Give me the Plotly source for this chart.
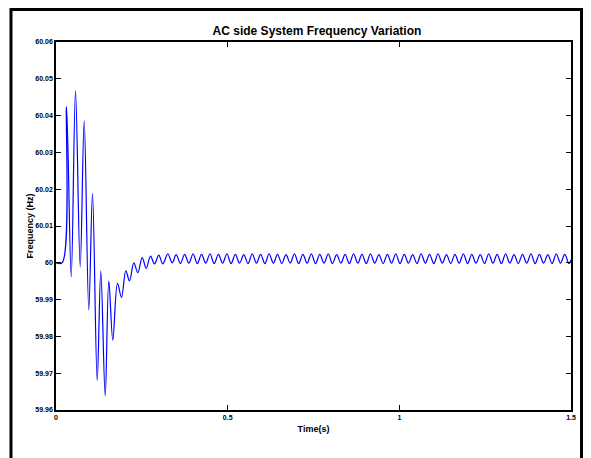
import plotly.graph_objects as go

# Extrema of the frequency trace (time in s, frequency in Hz)
transient_t = [0.000, 0.018, 0.0306, 0.0443, 0.0568, 0.0705, 0.0821, 0.0955, 0.1063, 0.1200,
               0.1305, 0.1433, 0.1538, 0.1655, 0.1791, 0.1908, 0.2033, 0.2141, 0.2266, 0.2383,
               0.2511, 0.2627, 0.2753, 0.2869, 0.2994, 0.3111, 0.3257, 0.3385]
transient_f = [60.0000, 60.0000, 60.0424, 59.9962, 60.0467, 59.9989, 60.0386, 59.9872, 60.0189, 59.9680,
               59.9978, 59.9638, 59.9951, 59.9790, 59.9944, 59.9906, 59.9978, 59.9951, 60.0000, 59.9973,
               60.0014, 59.9985, 60.0018, 59.9997, 60.0021, 59.9997, 60.0024, 60.0000]

peak_t = [0.3501, 0.3747, 0.3993, 0.4239, 0.4485, 0.4731, 0.4977, 0.5223, 0.5469, 0.5715,
          0.5961, 0.6207, 0.6453, 0.6699, 0.6945, 0.7191, 0.7437, 0.7683, 0.7929, 0.8175,
          0.8421, 0.8667, 0.8913, 0.9159, 0.9405, 0.9651, 0.9897, 1.0143, 1.0389, 1.0635,
          1.0881, 1.1127, 1.1373, 1.1619, 1.1865, 1.2111, 1.2357, 1.2603, 1.2849, 1.3095,
          1.3341, 1.3587, 1.3833, 1.4079, 1.4325, 1.4571, 1.4817]
peak_f = [60.0022, 60.0023, 60.0024, 60.0023, 60.0024, 60.0023, 60.0024, 60.0023, 60.0022, 60.0024,
          60.0023, 60.0024, 60.0023, 60.0022, 60.0024, 60.0023, 60.0024, 60.0023, 60.0024, 60.0022,
          60.0023, 60.0024, 60.0023, 60.0024, 60.0022, 60.0023, 60.0024, 60.0023, 60.0022, 60.0024,
          60.0023, 60.0024, 60.0022, 60.0023, 60.0024, 60.0023, 60.0022, 60.0024, 60.0023, 60.0024,
          60.0022, 60.0023, 60.0024, 60.0023, 60.0022, 60.0024, 60.0023]
trough_t = [0.3624, 0.3870, 0.4116, 0.4362, 0.4608, 0.4854, 0.5100, 0.5346, 0.5592, 0.5838,
            0.6084, 0.6330, 0.6576, 0.6822, 0.7068, 0.7314, 0.7560, 0.7806, 0.8052, 0.8298,
            0.8544, 0.8790, 0.9036, 0.9282, 0.9528, 0.9774, 1.0020, 1.0266, 1.0512, 1.0758,
            1.1004, 1.1250, 1.1496, 1.1742, 1.1988, 1.2234, 1.2480, 1.2726, 1.2972, 1.3218,
            1.3464, 1.3710, 1.3956, 1.4202, 1.4448, 1.4694, 1.4940]
trough_f = [59.9998, 59.9999, 59.9998, 59.9999, 59.9998, 59.9999, 59.9998, 59.9999, 59.9998, 59.9999,
            59.9998, 59.9999, 59.9998, 59.9999, 59.9998, 59.9999, 59.9998, 59.9999, 59.9998, 59.9999,
            59.9998, 59.9999, 59.9998, 59.9999, 59.9998, 59.9999, 59.9998, 59.9999, 59.9998, 59.9999,
            59.9998, 59.9999, 59.9998, 59.9999, 59.9998, 59.9999, 59.9998, 59.9999, 59.9998, 59.9999,
            59.9998, 59.9999, 59.9998, 59.9999, 59.9998, 59.9999, 59.9998]
end_t = [1.5000]
end_f = [60.0008]

y_tickvals = [59.96, 59.97, 59.98, 59.99, 60.00, 60.01, 60.02, 60.03, 60.04, 60.05, 60.06]
y_ticktext = ["59.96", "59.97", "59.98", "59.99", "60", "60.01", "60.02", "60.03", "60.04", "60.05", "60.06"]
x_tickvals = [0, 0.5, 1, 1.5]
x_ticktext = ["0", "0.5", "1", "1.5"]

# interleave steady-state peaks and troughs
t = list(transient_t)
f = list(transient_f)
for pt, pf, tt, tf in zip(peak_t, peak_f, trough_t, trough_f):
    t += [pt, tt]
    f += [pf, tf]
t += end_t
f += end_f

FONT = "Liberation Sans Narrow, Liberation Sans, Arial, sans-serif"

fig = go.Figure()
fig.add_trace(go.Scatter(x=t, y=f, mode="lines",
                         line=dict(color="#0000ff", width=1.2, shape="spline", smoothing=1.0),
                         showlegend=False, hoverinfo="skip"))

axis_common = dict(showgrid=False, zeroline=False, showline=True, linecolor="black", linewidth=1.5,
                   mirror="ticks", ticks="inside", ticklen=5, tickwidth=1, tickcolor="black")

fig.update_layout(
    width=583, height=450,
    margin=dict(l=48, r=20, t=34, b=48),
    paper_bgcolor="white", plot_bgcolor="white",
    title=dict(text="<b>AC side System Frequency Variation</b>", x=0.53, xanchor="center",
               y=0.95, yanchor="middle",
               font=dict(family="Liberation Sans, Arial, sans-serif", size=12, color="black")),
    xaxis=dict(range=[0, 1.5], tickvals=x_tickvals, ticktext=x_ticktext,
               tickfont=dict(family=FONT, size=7, color="black", weight="bold"),
               title=dict(text="<b>Time(s)</b>", standoff=6,
                          font=dict(family="Liberation Sans, Arial, sans-serif", size=9, color="black")),
               **axis_common),
    yaxis=dict(range=[59.96, 60.06], tickvals=y_tickvals, ticktext=y_ticktext,
               tickfont=dict(family=FONT, size=7, color="black", weight="bold"),
               title=dict(text="<b>Frequency (Hz)</b>", standoff=0,
                          font=dict(family="Liberation Sans, Arial, sans-serif", size=9, color="black")),
               **axis_common),
    shapes=[dict(type="rect", xref="paper", yref="paper",
                 x0=-0.0874, x1=1.0204, y0=-0.17, y1=1.0883,
                 line=dict(color="black", width=3), fillcolor="rgba(0,0,0,0)", layer="above")],
)

fig.write_html("out.html")
